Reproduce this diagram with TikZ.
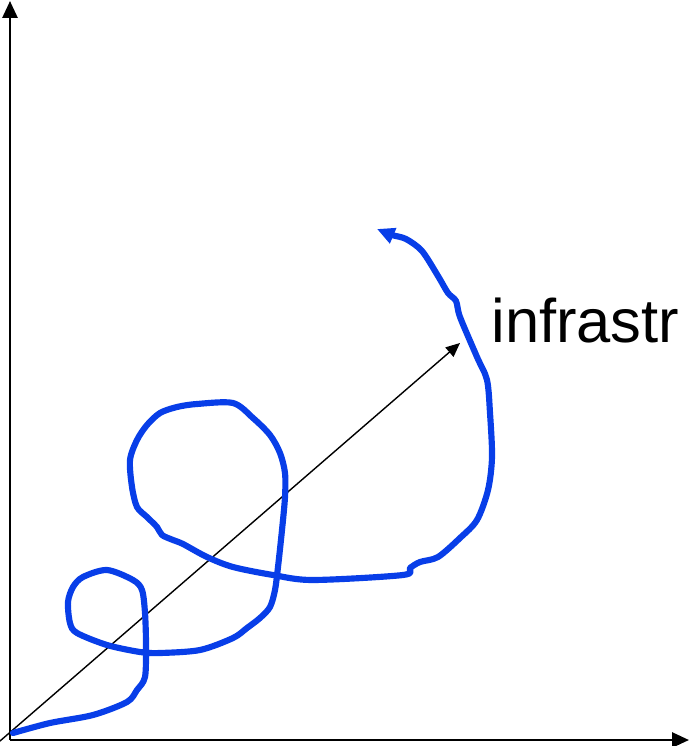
\documentclass[tikz,border=0pt]{standalone}
\usepackage{fontspec}
\setmainfont{Liberation Sans}
\usetikzlibrary{arrows.meta}

\definecolor{pathblue}{RGB}{8,62,232}

\tikzset{
    axis/.style={line width=1.5pt,-{Triangle[length=9.6pt,width=8.5pt]}},
    dirarrow/.style={line width=0.8pt,-{Triangle[length=8pt,width=7pt]}},
    trajectory/.style={pathblue,line width=3.5pt,line cap=round,line join=round,
        -{Triangle[length=10pt,width=9pt]}},
}

\begin{document}
\begin{tikzpicture}[x=0.02cm,y=-0.02cm]
    \useasboundingbox (0,0) rectangle (689,746);

    \coordinate (O) at (10,740);
    \coordinate (ytop) at (10,1);
    \coordinate (xend) at (689,740);
    \coordinate (dstart) at (0,741);
    \coordinate (dend) at (460,343);

    \draw[axis] (O) -- (ytop);
    \draw[axis] (O) -- (xend);
    \draw[dirarrow] (dstart) -- (dend);

    \node[anchor=base west,inner sep=0pt,font=\fontsize{35}{40}\selectfont] (lbl) at (491,342) {infrastr};

    \draw[trajectory] plot[smooth,tension=0.5] coordinates {
        (13,733) (50,723) (93,715) (127,702) (137,690) (145,677) (146,645)
        (145,613) (142,590) (133,580) (107,570) (83,577) (73,587) (68,602)
        (70,623) (77,633) (107,645) (140,652) (160,653) (200,650) (233,638)
        (247,628) (260,618) (270,607) (275,590) (278,567) (282,530) (285,497)
        (285,473) (280,453) (270,435) (253,418) (233,403) (197,404) (177,407)
        (160,413) (147,425) (137,440) (130,460) (132,487) (137,507) (147,517)
        (157,527) (162,535) (173,540) (183,544) (207,557) (233,567) (273,575)
        (313,580) (403,575) (410,568) (420,562) (438,557) (460,538) (477,520)
        (488,490) (492,457) (490,413) (487,380) (477,357) (460,317) (456,301)
        (448,293) (438,276) (422,251) (406,239) (392,235) (377,229)};
\end{tikzpicture}
\end{document}
